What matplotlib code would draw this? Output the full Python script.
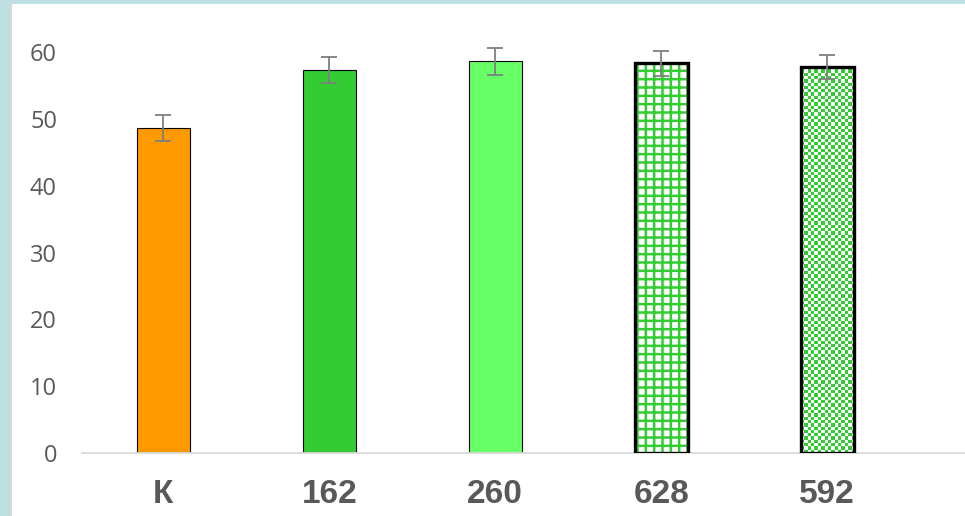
import numpy as np
import matplotlib
matplotlib.use('Agg')
import matplotlib.pyplot as plt
from matplotlib.patches import Rectangle
from matplotlib.colors import ListedColormap

categories = ['К', '162', '260', '628', '592']
values = [48.6, 57.3, 58.6, 58.3, 57.8]
errors = [1.9, 1.9, 2.0, 1.9, 1.8]
face_colors = ['#FF9900', '#33CC33', '#66FF66', 'white', 'white']
yticks = [0, 10, 20, 30, 40, 50, 60]

plt.rcParams['hatch.linewidth'] = 1.8

fig = plt.figure(figsize=(9.65, 5.16), dpi=100)
fig.patch.set_facecolor('#BEE0E3')
# white card with a thin grey left edge
fig.patches.append(Rectangle((10 / 965, 0), 2 / 965, 512 / 516, transform=fig.transFigure,
                             facecolor='#D9D9D9', edgecolor='none', zorder=-2))
fig.patches.append(Rectangle((12 / 965, 0), 1, 512 / 516, transform=fig.transFigure,
                             facecolor='white', edgecolor='none', zorder=-2))

ax = fig.add_axes([82 / 965, 63 / 516, (965 - 82) / 965, (453 - 52) / 516])
ax.set_facecolor('none')

x = np.arange(len(categories))
bars = ax.bar(x, values, width=0.32, color=face_colors, edgecolor='black', linewidth=0.8, zorder=2)

# grid pattern bar
bars[3].set_hatch('++')
bars[3].set_edgecolor('#33CC33')
bars[3].set_linewidth(0)
# checkerboard bar
bars[4].set_linewidth(0)

for b in (bars[3], bars[4]):
    ax.add_patch(Rectangle((b.get_x(), 0), b.get_width(), b.get_height(), fill=False,
                           edgecolor='black', linewidth=2.4, zorder=4))

# checkerboard fill, clipped to the bar
b = bars[4]
nx = 16
ny = int(round(b.get_height() * 6.68 / 3.3))
checker = (np.add.outer(np.arange(ny), np.arange(nx)) % 2).astype(float)
im = ax.imshow(checker, cmap=ListedColormap(['white', '#33CC33']), interpolation='nearest',
               extent=[b.get_x(), b.get_x() + b.get_width(), 0, b.get_height()],
               aspect='auto', zorder=3)
im.set_clip_path(b)

ax.errorbar(x, values, yerr=errors, fmt='none', ecolor='#7F7F7F', elinewidth=1.3,
            capsize=6, capthick=1.3, zorder=5, clip_on=False)

ax.set_xlim(-0.49, 4.83)
ax.set_ylim(0, 60)
ax.set_yticks(yticks)
ax.set_xticks(x)
ax.set_xticklabels(categories, fontsize=24, fontweight='bold', color='#595959',
                   family=['Liberation Sans', 'DejaVu Sans'])
ax.set_yticklabels([str(t) for t in yticks], family='Open Sans', fontsize=17, color='#595959')
ax.tick_params(axis='y', length=0, pad=18)
ax.tick_params(axis='x', length=0, pad=19)

for s in ['top', 'right', 'left']:
    ax.spines[s].set_visible(False)
ax.spines['bottom'].set_color('#D9D9D9')
ax.spines['bottom'].set_linewidth(1.3)

fig.savefig('out.png', dpi=100)
